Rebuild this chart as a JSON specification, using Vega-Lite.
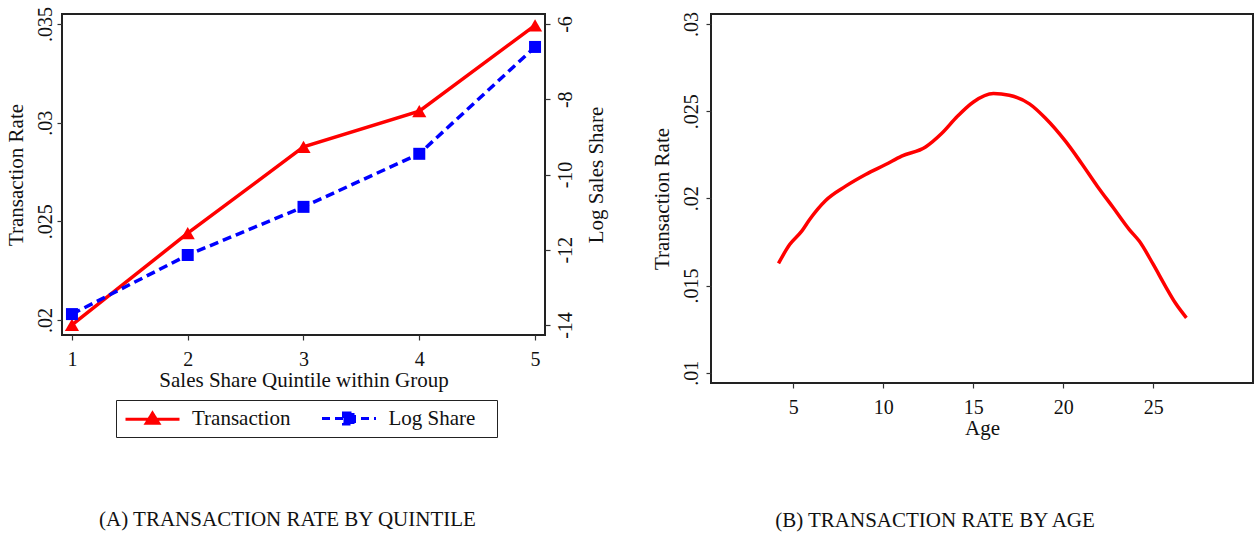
{
  "$schema": "https://vega.github.io/schema/vega-lite/v6.json",
  "padding": {"left": 4, "top": 5, "right": 0, "bottom": 0},
  "background": "white",
  "config": {
    "font": "Liberation Serif",
    "view": {"stroke": "#222", "strokeWidth": 2},
    "axis": {
      "labelFont": "Liberation Serif", "titleFont": "Liberation Serif",
      "labelFontSize": 20, "titleFontSize": 21, "titleFontWeight": "normal",
      "labelColor": "#111", "titleColor": "#111",
      "domain": false, "grid": false, "tickColor": "#333", "tickSize": 5, "tickWidth": 1.2,
      "labelFlush": false, "labelOverlap": false
    },
    "legend": {"labelFont": "Liberation Serif", "labelFontSize": 21, "labelColor": "#111"},
    "title": {"font": "Liberation Serif", "fontWeight": "normal", "fontSize": 21, "color": "#111"}
  },
  "datasets": {
    "trans": [
      {"quintile": 1, "series": "Transaction", "rate": 0.01975},
      {"quintile": 2, "series": "Transaction", "rate": 0.0244},
      {"quintile": 3, "series": "Transaction", "rate": 0.02877},
      {"quintile": 4, "series": "Transaction", "rate": 0.03058},
      {"quintile": 5, "series": "Transaction", "rate": 0.03493}
    ],
    "logshare": [
      {"quintile": 1, "series": "Log Share", "value": -13.71},
      {"quintile": 2, "series": "Log Share", "value": -12.14},
      {"quintile": 3, "series": "Log Share", "value": -10.86},
      {"quintile": 4, "series": "Log Share", "value": -9.45},
      {"quintile": 5, "series": "Log Share", "value": -6.61}
    ],
    "age": [
      {"age": 4.18, "rate": 0.01627},
      {"age": 4.8, "rate": 0.01735},
      {"age": 5.47, "rate": 0.01812},
      {"age": 5.91, "rate": 0.01879},
      {"age": 6.8, "rate": 0.01988},
      {"age": 7.91, "rate": 0.0207},
      {"age": 9.02, "rate": 0.02137},
      {"age": 10.13, "rate": 0.02194},
      {"age": 11.02, "rate": 0.02242},
      {"age": 12.35, "rate": 0.02295},
      {"age": 13.24, "rate": 0.02372},
      {"age": 14.12, "rate": 0.02471},
      {"age": 15.01, "rate": 0.02553},
      {"age": 16.12, "rate": 0.02601},
      {"age": 17.0, "rate": 0.02591},
      {"age": 18.12, "rate": 0.02542},
      {"age": 19.0, "rate": 0.02461},
      {"age": 20.12, "rate": 0.02328},
      {"age": 21.0, "rate": 0.02203},
      {"age": 21.89, "rate": 0.0207},
      {"age": 22.78, "rate": 0.01946},
      {"age": 23.67, "rate": 0.01821},
      {"age": 24.22, "rate": 0.01755},
      {"age": 25.0, "rate": 0.01621},
      {"age": 25.67, "rate": 0.01497},
      {"age": 26.22, "rate": 0.01401},
      {"age": 26.84, "rate": 0.01315}
    ]
  },
  "hconcat": [
    {
      "width": 483,
      "height": 321,
      "title": {"text": "(A) TRANSACTION RATE BY QUINTILE", "orient": "bottom", "anchor": "middle", "frame": "group", "offset": 119, "dx": -16},
      "layer": [
        {
          "data": {"name": "trans"},
          "layer": [
            {
              "mark": {"type": "line", "strokeWidth": 3.5},
              "encoding": {
                "x": {"field": "quintile", "type": "quantitative", "scale": {"domain": [0.914, 5.086], "nice": false, "zero": false},
                  "axis": {"title": "Sales Share Quintile within Group", "values": [1, 2, 3, 4, 5], "format": "d", "labelPadding": 9, "titlePadding": 0}},
                "y": {"field": "rate", "type": "quantitative", "scale": {"domain": [0.019241, 0.035506], "nice": false, "zero": false},
                  "axis": {"orient": "left", "title": "Transaction Rate", "values": [0.02, 0.025, 0.03, 0.035],
                    "labelExpr": "substring(format(datum.value, '.3~f'), 1)", "labelAngle": 270, "labelAlign": "center", "labelBaseline": "alphabetic", "labelPadding": 6, "titlePadding": 9}},
                "color": {"field": "series", "type": "nominal",
                  "scale": {"domain": ["Transaction", "Log Share"], "range": ["#ff0000", "#0000ff"]},
                  "legend": {
                    "title": "\u00a0", "titleOrient": "right", "titlePadding": 15, "titleFontSize": 21, "titleFont": "Liberation Serif",
                    "orient": "none", "legendX": 54, "legendY": 386, "direction": "horizontal",
                    "strokeColor": "#222", "fillColor": "white", "padding": 7,
                    "symbolSize": 400, "symbolStrokeWidth": 3, "labelOffset": 46, "columnPadding": 24.5,
                    "encode": {
                      "symbols": {"update": {
                        "shape": {"signal": "datum.value === 'Transaction' ? 'M-0.9,0L4.5,0M1.8,-0.6L2.43,0.42L1.17,0.42Z' : 'M-0.9,0L4.5,0M1.25,-0.55L2.35,-0.55L2.35,0.55L1.25,0.55Z'"},
                        "fill": {"signal": "datum.value === 'Transaction' ? '#ff0000' : '#0000ff'"},
                        "stroke": {"signal": "datum.value === 'Transaction' ? '#ff0000' : '#0000ff'"},
                        "strokeDash": {"signal": "datum.value === 'Transaction' ? [1, 0] : [8, 5]"},
                        "strokeWidth": {"value": 3},
                        "opacity": {"value": 1},
                        "fillOpacity": {"value": 1},
                        "strokeOpacity": {"value": 1}
                      }}
                    }
                  }}
              }
            },
            {
              "mark": {"type": "point", "shape": "triangle-up", "filled": true, "size": 200, "opacity": 1, "color": "#ff0000"},
              "encoding": {
                "x": {"field": "quintile", "type": "quantitative"},
                "y": {"field": "rate", "type": "quantitative"}
              }
            }
          ]
        },
        {
          "data": {"name": "logshare"},
          "layer": [
            {
              "mark": {"type": "line", "strokeWidth": 3.5, "strokeDash": [9, 5]},
              "encoding": {
                "x": {"field": "quintile", "type": "quantitative"},
                "y": {"field": "value", "type": "quantitative", "scale": {"domain": [-14.2655, -5.7345], "nice": false, "zero": false},
                  "axis": {"orient": "right", "title": "Log Sales Share", "values": [-14, -12, -10, -8, -6],
                    "labelExpr": "'' + datum.value", "labelAngle": 270, "labelAlign": "center", "labelBaseline": "top", "labelPadding": 5,
                    "titleAngle": 270, "titleBaseline": "top", "titlePadding": 10}},
                "color": {"field": "series", "type": "nominal"}
              }
            },
            {
              "mark": {"type": "point", "shape": "square", "filled": true, "size": 144, "opacity": 1, "color": "#0000ff"},
              "encoding": {
                "x": {"field": "quintile", "type": "quantitative"},
                "y": {"field": "value", "type": "quantitative"}
              }
            }
          ]
        }
      ],
      "resolve": {"scale": {"y": "independent"}}
    },
    {
      "width": 542,
      "height": 369,
      "title": {"text": "(B) TRANSACTION RATE BY AGE", "orient": "bottom", "anchor": "middle", "frame": "group", "offset": 72, "dx": -47},
      "data": {"name": "age"},
      "mark": {"type": "line", "strokeWidth": 3.5, "color": "#ff0000", "interpolate": "monotone"},
      "encoding": {
        "x": {"field": "age", "type": "quantitative", "scale": {"domain": [0.43, 30.54], "nice": false, "zero": false},
          "axis": {"title": "Age", "values": [5, 10, 15, 20, 25], "format": "d", "labelPadding": 9, "titlePadding": 0}},
        "y": {"field": "rate", "type": "quantitative", "scale": {"domain": [0.00941, 0.030573], "nice": false, "zero": false},
          "axis": {"title": "Transaction Rate", "values": [0.01, 0.015, 0.02, 0.025, 0.03],
            "labelExpr": "substring(format(datum.value, '.3~f'), 1)", "labelAngle": 270, "labelAlign": "center", "labelBaseline": "alphabetic", "labelPadding": 9, "titlePadding": 9}}
      }
    }
  ],
  "spacing": 43
}
